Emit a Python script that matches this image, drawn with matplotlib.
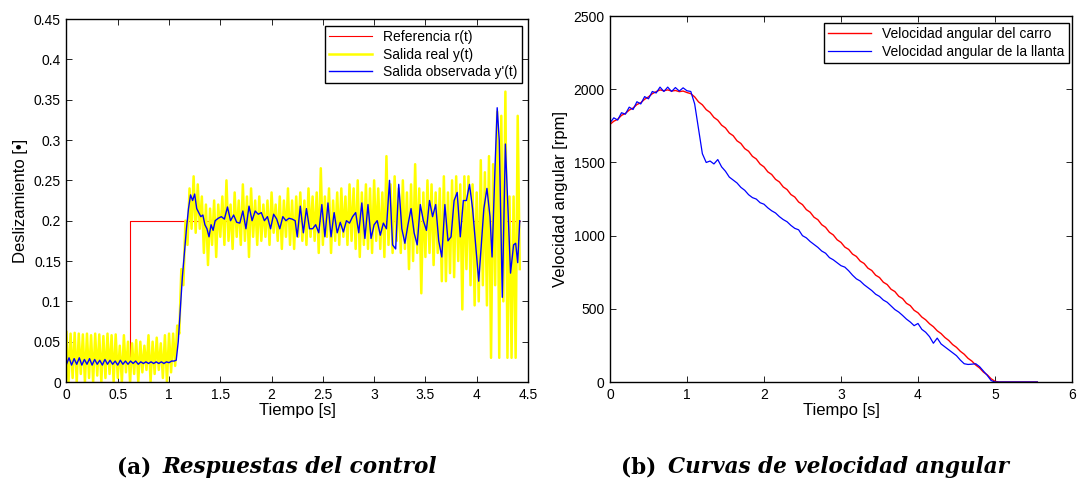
import numpy as np
import matplotlib
matplotlib.use("Agg")
import matplotlib.pyplot as plt
from matplotlib.ticker import FormatStrFormatter, MultipleLocator

plt.rcParams['font.family'] = ['Liberation Sans', 'DejaVu Sans']

# ---- (a) Respuestas del control ----
ref_t = [0.0, 0.62, 0.62, 4.42]
ref_y = [0.0, 0.0, 0.2, 0.2]

# salida real y(t): picos altos (t = 0, 0.04, ...) y bajos (t = 0.02, 0.06, ...)
yreal_hi = [0.062, 0.06, 0.061, 0.06, 0.059, 0.06, 0.058, 0.06, 0.059, 0.057,
            0.06, 0.058, 0.059, 0.045, 0.058, 0.05, 0.048, 0.052, 0.05, 0.045,
            0.058, 0.05, 0.055, 0.048, 0.058, 0.06, 0.06,
            0.07, 0.14, 0.2, 0.24, 0.255, 0.245, 0.23, 0.22, 0.215, 0.225,
            0.22, 0.23, 0.25, 0.22, 0.235, 0.225, 0.245, 0.23, 0.24, 0.225,
            0.23, 0.22, 0.225, 0.235, 0.22, 0.23, 0.225, 0.24, 0.225, 0.23,
            0.235, 0.225, 0.24, 0.23, 0.235, 0.265, 0.23, 0.24, 0.225, 0.235,
            0.24, 0.23, 0.245, 0.24, 0.25, 0.235, 0.245, 0.24, 0.25, 0.24,
            0.235, 0.28, 0.245, 0.255, 0.24, 0.25, 0.235, 0.245, 0.27, 0.24,
            0.235, 0.25, 0.245, 0.235, 0.24, 0.255, 0.235, 0.25, 0.255, 0.245,
            0.255, 0.255, 0.245, 0.235, 0.275, 0.26, 0.28, 0.27, 0.335, 0.33,
            0.36, 0.23, 0.23, 0.33]
yreal_lo = [0.0, 0.005, 0.0, 0.01, 0.0, 0.005, 0.0, 0.008, 0.0, 0.005,
            0.01, 0.0, 0.005, 0.0, 0.012, 0.0, 0.01, 0.0, 0.012, 0.015,
            0.0, 0.01, 0.015, 0.005, 0.0, 0.012, 0.02,
            0.06, 0.12, 0.17, 0.19, 0.185, 0.19, 0.16, 0.145, 0.17, 0.155,
            0.18, 0.17, 0.175, 0.165, 0.18, 0.17, 0.175, 0.155, 0.18, 0.17,
            0.175, 0.18, 0.17, 0.185, 0.175, 0.165, 0.18, 0.17, 0.165, 0.18,
            0.175, 0.17, 0.18, 0.175, 0.16, 0.17, 0.18, 0.16, 0.175, 0.17,
            0.18, 0.17, 0.175, 0.165, 0.155, 0.17, 0.165, 0.16, 0.175, 0.165,
            0.155, 0.17, 0.16, 0.175, 0.16, 0.165, 0.14, 0.15, 0.16, 0.11,
            0.155, 0.16, 0.145, 0.16, 0.125, 0.125, 0.135, 0.13, 0.15, 0.09,
            0.14, 0.12, 0.095, 0.1, 0.12, 0.095, 0.03, 0.12, 0.03, 0.1,
            0.03, 0.03, 0.03, 0.14]
dt_real = 0.02

# salida observada y'(t)
obs_t = [0.0, 0.025, 0.05, 0.075, 0.1, 0.125, 0.15, 0.175, 0.2, 0.225, 0.25,
         0.275, 0.3, 0.325, 0.35, 0.375, 0.4, 0.425, 0.45, 0.475, 0.5, 0.525,
         0.55, 0.575, 0.6, 0.625, 0.65, 0.675, 0.7, 0.725, 0.75, 0.775, 0.8,
         0.825, 0.85, 0.875, 0.9, 0.925, 0.95, 0.975, 1.0, 1.025, 1.05,
         1.07, 1.09, 1.11, 1.13, 1.15, 1.17, 1.19, 1.21, 1.23, 1.25, 1.27,
         1.29, 1.31, 1.33, 1.35, 1.37, 1.39, 1.41, 1.43, 1.45, 1.48, 1.51,
         1.54, 1.57, 1.6, 1.63, 1.66, 1.69, 1.72, 1.75, 1.78, 1.81, 1.84,
         1.87, 1.9, 1.93, 1.96, 1.99, 2.02, 2.05, 2.08, 2.11, 2.14, 2.17,
         2.2, 2.23, 2.25, 2.28, 2.31, 2.34, 2.37, 2.4, 2.43, 2.46, 2.49,
         2.52, 2.55, 2.58, 2.61, 2.64, 2.67, 2.7, 2.73, 2.76, 2.79, 2.82,
         2.85, 2.88, 2.91, 2.94, 2.97, 3.0, 3.03, 3.06, 3.09, 3.12, 3.15,
         3.18, 3.21, 3.24, 3.27, 3.3, 3.33, 3.36, 3.39, 3.42, 3.45, 3.48,
         3.51, 3.54, 3.57, 3.6, 3.63, 3.66, 3.69, 3.72, 3.75, 3.78, 3.81,
         3.84, 3.87, 3.9, 3.93, 3.96, 3.99, 4.02, 4.05, 4.07, 4.1, 4.13,
         4.15, 4.18, 4.2, 4.22, 4.25, 4.28, 4.31, 4.33, 4.36, 4.38, 4.4, 4.42]
obs_y = [0.022, 0.030, 0.021, 0.029, 0.022, 0.030, 0.021, 0.028, 0.022, 0.029,
         0.021, 0.028, 0.022, 0.027, 0.021, 0.028, 0.022, 0.027, 0.022, 0.026,
         0.021, 0.027, 0.022, 0.026, 0.022, 0.026, 0.023, 0.026, 0.022, 0.025,
         0.023, 0.025, 0.023, 0.025, 0.023, 0.025, 0.023, 0.025, 0.023, 0.025,
         0.024, 0.026, 0.026,
         0.027, 0.05, 0.09, 0.13, 0.16, 0.19, 0.215, 0.232, 0.225, 0.233, 0.215,
         0.21, 0.205, 0.207, 0.195, 0.19, 0.18, 0.195, 0.188, 0.2, 0.203, 0.205,
         0.202, 0.217, 0.2, 0.207, 0.198, 0.197, 0.212, 0.19, 0.218, 0.2, 0.212,
         0.208, 0.21, 0.2, 0.205, 0.19, 0.208, 0.202, 0.19, 0.205, 0.2, 0.203,
         0.202, 0.2, 0.18, 0.218, 0.185, 0.215, 0.19, 0.19, 0.195, 0.185, 0.22,
         0.18, 0.222, 0.18, 0.21, 0.185, 0.198, 0.186, 0.2, 0.197, 0.205, 0.21,
         0.185, 0.222, 0.178, 0.22, 0.178, 0.195, 0.2, 0.182, 0.197, 0.19, 0.25,
         0.17, 0.165, 0.245, 0.19, 0.172, 0.195, 0.215, 0.185, 0.17, 0.22,
         0.2, 0.188, 0.225, 0.205, 0.22, 0.175, 0.155, 0.22, 0.175, 0.18,
         0.225, 0.235, 0.18, 0.225, 0.225, 0.245, 0.215, 0.17, 0.125, 0.18,
         0.215, 0.24, 0.205, 0.155, 0.27, 0.34, 0.3, 0.105, 0.295, 0.2, 0.135,
         0.17, 0.172, 0.148, 0.2]

# ---- (b) Curvas de velocidad angular ----
dt_vel = 0.05
vel_carro = [1760, 1782, 1795, 1822, 1835, 1858, 1872, 1896, 1908, 1932,
             1948, 1970, 1984, 1996, 1990, 1996, 1988, 1992, 1984, 1988,
             1978, 1970, 1948, 1914, 1894, 1861, 1842, 1808, 1789, 1755,
             1736, 1701, 1683, 1648, 1630, 1595, 1577, 1542, 1524, 1489,
             1470, 1436, 1418, 1385, 1367, 1333, 1315, 1281, 1264, 1230,
             1212, 1178, 1160, 1126, 1109, 1075, 1057, 1023, 1005, 972,
             954, 922, 906, 874, 858, 826, 810, 778, 762, 730,
             714, 682, 666, 634, 618, 586, 570, 538, 522, 490,
             473, 444, 425, 398, 378, 350, 331, 304, 284, 256,
             237, 210, 190, 162, 143, 116, 96, 68, 49, 22,
             5, 0, 0, 0, 0, 0, 0, 0, 0, 0, 0, 0]
vel_llanta = [1770, 1805, 1790, 1840, 1830, 1878, 1862, 1915, 1900, 1950,
              1935, 1985, 1975, 2015, 1985, 2015, 1985, 2012, 1988, 2010,
              1990, 1985, 1900, 1730, 1560, 1500, 1510, 1490, 1520, 1470,
              1440, 1400, 1380, 1360, 1330, 1310, 1280, 1260, 1250, 1225,
              1215, 1190, 1170, 1155, 1130, 1110, 1095, 1070, 1050, 1040,
              1000, 985, 960, 940, 920, 895, 880, 850, 835, 815,
              795, 785, 760, 730, 705, 690, 665, 645, 625, 600,
              585, 560, 545, 520, 495, 478, 455, 430, 410, 385,
              400, 360, 340, 310, 265, 300, 260, 240, 220, 200,
              180, 150, 125, 120, 122, 125, 105, 75, 45, 10,
              0, 0, 0, 0, 0, 0, 0, 0, 0, 0, 0, 0]

fig = plt.figure(figsize=(10.79, 4.84), dpi=100)
ax1 = fig.add_axes([0.0616, 0.2107, 0.4277, 0.75])
ax2 = fig.add_axes([0.5653, 0.2107, 0.4282, 0.756])

# panel a
n = len(yreal_hi)
yreal = np.empty(2 * n)
yreal[0::2] = yreal_hi
yreal[1::2] = yreal_lo
t_real = np.arange(2 * n) * dt_real

ax1.plot(ref_t, ref_y, color='#ff0000', lw=0.8, label='Referencia r(t)')
ax1.plot(t_real, yreal, color='#ffff00', lw=1.8, label='Salida real y(t)')
ax1.plot(obs_t, obs_y, color='#0000ff', lw=1.0, label="Salida observada y'(t)")
ax1.set_xlim(0, 4.5)
ax1.set_ylim(0, 0.45)
ax1.xaxis.set_major_locator(MultipleLocator(0.5))
ax1.yaxis.set_major_locator(MultipleLocator(0.05))
ax1.xaxis.set_major_formatter(FormatStrFormatter('%g'))
ax1.yaxis.set_major_formatter(FormatStrFormatter('%g'))
ax1.set_xlabel('Tiempo [s]', fontsize=12, labelpad=1)
ax1.set_ylabel('Deslizamiento [•]', fontsize=12, labelpad=4)
ax1.legend(loc='upper right', bbox_to_anchor=(0.987, 0.981), borderaxespad=0,
           fontsize=10, handlelength=3.1, fancybox=False, framealpha=1,
           edgecolor='black', labelspacing=0.25, borderpad=0.3)

# panel b
t_vel = np.arange(len(vel_carro)) * dt_vel
ax2.plot(t_vel, vel_carro, color='#ff0000', lw=1.0, label='Velocidad angular del carro')
ax2.plot(t_vel, vel_llanta, color='#0000ff', lw=0.9, label='Velocidad angular de la llanta')
ax2.set_xlim(0, 6)
ax2.set_ylim(0, 2500)
ax2.xaxis.set_major_locator(MultipleLocator(1))
ax2.yaxis.set_major_locator(MultipleLocator(500))
ax2.set_xlabel('Tiempo [s]', fontsize=12, labelpad=1)
ax2.set_ylabel('Velocidad angular [rpm]', fontsize=12, labelpad=4)
ax2.legend(loc='upper right', bbox_to_anchor=(0.993, 0.981), borderaxespad=0,
           fontsize=10, handlelength=3.1, fancybox=False, framealpha=1,
           edgecolor='black', labelspacing=0.25, borderpad=0.3)

for ax in (ax1, ax2):
    ax.tick_params(direction='in', top=True, right=True, length=4, width=0.6,
                   labelsize=10, pad=4)
    for s in ax.spines.values():
        s.set_linewidth(1.0)

# subtitulos
cap = dict(family='DejaVu Serif', fontsize=15.5, weight='bold', va='baseline')
y_cap = 0.022
fig.text(151 / 1079, y_cap, '(a)', ha='right', **cap)
fig.text(162 / 1079, y_cap, 'Respuestas del control', ha='left', style='italic', **cap)
fig.text(656 / 1079, y_cap, '(b)', ha='right', **cap)
fig.text(668 / 1079, y_cap, 'Curvas de velocidad angular', ha='left', style='italic', **cap)

fig.savefig('out.png', dpi=100)
